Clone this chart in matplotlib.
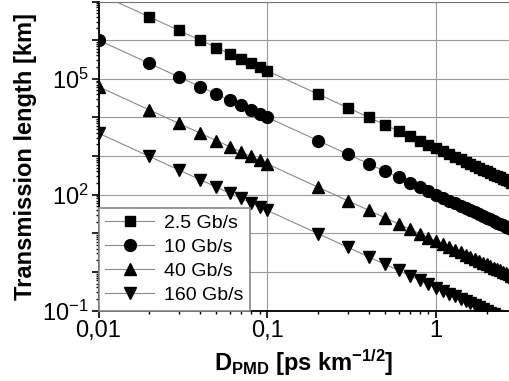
import math
import matplotlib
matplotlib.use("Agg")
import matplotlib.pyplot as plt
from matplotlib.ticker import LogLocator, FixedLocator, FuncFormatter, NullFormatter

plt.rcParams["font.family"] = ["Liberation Sans", "DejaVu Sans"]
plt.rcParams["mathtext.default"] = "regular"

# D_PMD values [ps km^-1/2]
d_pmd = [0.01, 0.02, 0.03, 0.04, 0.05, 0.06, 0.07, 0.08, 0.09, 0.1,
         0.2, 0.3, 0.4, 0.5, 0.6, 0.7, 0.8, 0.9, 1.0,
         1.1, 1.2, 1.3, 1.4, 1.5, 1.6, 1.7, 1.8, 1.9, 2.0,
         2.1, 2.2, 2.3, 2.4, 2.5, 2.6, 2.7, 2.8, 2.9, 3.0]

# transmission length [km]
len_2g5 = [1.6e7, 4.0e6, 1.78e6, 1.0e6, 6.4e5, 4.44e5, 3.27e5, 2.5e5, 1.98e5, 1.6e5,
           4.0e4, 1.78e4, 1.0e4, 6400, 4444, 3265, 2500, 1975, 1600,
           1322, 1111, 947, 816, 711, 625, 554, 494, 443, 400,
           363, 331, 302, 278, 256, 237, 219, 204, 190, 178]
len_10 = [1.0e6, 2.5e5, 1.11e5, 6.25e4, 4.0e4, 2.78e4, 2.04e4, 1.56e4, 1.23e4, 1.0e4,
          2500, 1111, 625, 400, 278, 204, 156, 123, 100,
          82.6, 69.4, 59.2, 51.0, 44.4, 39.1, 34.6, 30.9, 27.7, 25.0,
          22.7, 20.7, 18.9, 17.4, 16.0, 14.8, 13.7, 12.8, 11.9, 11.1]
len_40 = [6.25e4, 1.56e4, 6944, 3906, 2500, 1736, 1276, 977, 772, 625,
          156, 69.4, 39.1, 25.0, 17.4, 12.8, 9.77, 7.72, 6.25,
          5.17, 4.34, 3.70, 3.19, 2.78, 2.44, 2.16, 1.93, 1.73, 1.56,
          1.42, 1.29, 1.18, 1.09, 1.0, 0.925, 0.857, 0.797, 0.743, 0.694]
len_160 = [3906, 977, 434, 244, 156, 109, 79.7, 61.0, 48.2, 39.1,
           9.77, 4.34, 2.44, 1.56, 1.09, 0.797, 0.610, 0.482, 0.391,
           0.323, 0.271, 0.231, 0.199, 0.174, 0.153, 0.135, 0.121, 0.108, 0.0977,
           0.0886, 0.0807, 0.0738, 0.0678, 0.0625, 0.0578, 0.0536, 0.0498, 0.0464, 0.0434]

series = [("2.5 Gb/s", len_2g5, "s", 7.5),
          ("10 Gb/s", len_10, "o", 8.5),
          ("40 Gb/s", len_40, "^", 9),
          ("160 Gb/s", len_160, "v", 9)]

fig = plt.figure(figsize=(5.09, 3.81), dpi=100)
ax = fig.add_axes([98.5 / 509, 70.5 / 381, 1 - 98.5 / 509, 309 / 381])

for name, vals, mk, ms in series:
    ax.plot(d_pmd, vals, color="#8a8a8a", lw=0.8, marker=mk, ms=ms,
            mfc="black", mec="black", label=name)

ax.set_xscale("log")
ax.set_yscale("log")
ax.set_xlim(0.01, 0.01 * 10 ** ((509 - 98.5) / 168.75))
ax.set_ylim(0.1, 1e7)

x_names = {0.01: "0,01", 0.1: "0,1", 1.0: "1"}
ax.xaxis.set_major_locator(FixedLocator([0.01, 0.1, 1]))
ax.xaxis.set_major_formatter(FuncFormatter(lambda v, p: x_names.get(round(v, 2), "")))
ax.xaxis.set_minor_locator(LogLocator(base=10, subs=range(2, 10), numticks=20))
ax.xaxis.set_minor_formatter(NullFormatter())


def y_fmt(v, p):
    e = round(math.log10(v))
    return "$10^{%d}$" % e if e in (-1, 2, 5) else ""


ax.yaxis.set_major_locator(LogLocator(base=10, numticks=20))
ax.yaxis.set_major_formatter(FuncFormatter(y_fmt))
ax.yaxis.set_minor_locator(LogLocator(base=10, subs=range(2, 10), numticks=20))
ax.yaxis.set_minor_formatter(NullFormatter())

ax.grid(True, which="major", color="#999999", lw=0.8)
ax.tick_params(which="major", direction="out", length=5, width=1.2, labelsize=17, pad=2)
ax.tick_params(which="minor", direction="out", length=2.5, width=1)
for s in ("left", "bottom"):
    ax.spines[s].set_linewidth(1.3)
ax.spines["right"].set_visible(False)
ax.spines["top"].set_color("#777777")

ax.set_ylabel("Transmission length [km]", fontsize=17, fontweight="bold", labelpad=4)
ax.set_xlabel("D$_{PMD}$ [ps km$^{-1/2}$]", fontsize=17, fontweight="bold", labelpad=4)

leg = ax.legend(loc="lower left", fontsize=14, frameon=True, fancybox=False,
                borderaxespad=0, handlelength=2.5, handletextpad=0.5,
                labelspacing=0.32, borderpad=0.35)
leg.get_frame().set_edgecolor("#888888")
leg.get_frame().set_linewidth(1.2)
leg.get_frame().set_alpha(1)

fig.savefig("out.png", dpi=100)
